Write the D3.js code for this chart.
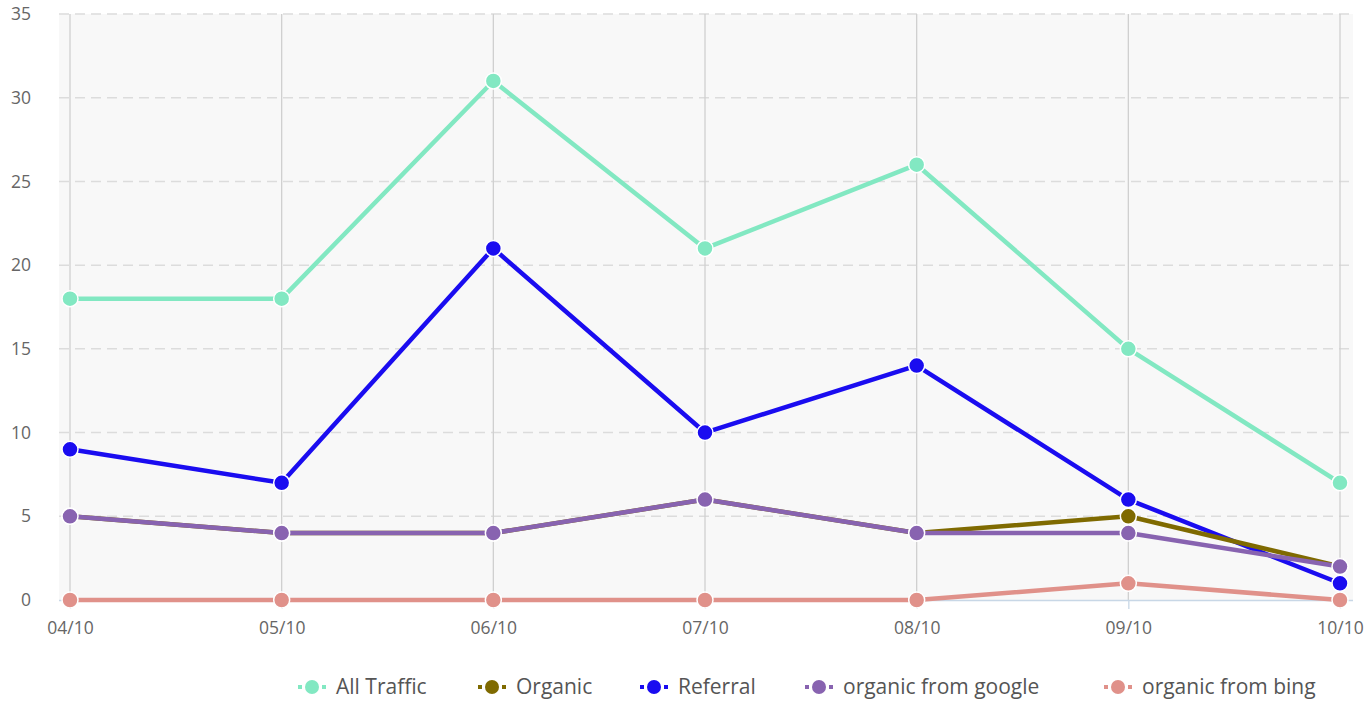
<!DOCTYPE html>
<html>
<head>
<meta charset="utf-8">
<script src="https://cdn.jsdelivr.net/npm/d3@7/dist/d3.min.js"></script>
<style>
  html, body { margin: 0; padding: 0; background: #fff; }
  svg { display: block; font-family: "Open Sans", "Noto Sans", sans-serif; }
</style>
</head>
<body>
<svg id="chart" width="1365" height="702"></svg>
<script>
// Weekly visits by traffic source
const dates = ["04/10", "05/10", "06/10", "07/10", "08/10", "09/10", "10/10"];
const yTicks = [0, 5, 10, 15, 20, 25, 30, 35];

const allTraffic    = [18, 18, 31, 21, 26, 15, 7];
const organic       = [5, 4, 4, 6, 4, 5, 2];
const referral      = [9, 7, 21, 10, 14, 6, 1];
const organicGoogle = [5, 4, 4, 6, 4, 4, 2];
const organicBing   = [0, 0, 0, 0, 0, 1, 0];

const seriesNames  = ["All Traffic", "Organic", "Referral", "organic from google", "organic from bing"];
const seriesColors = ["#82e8c2", "#7f6a00", "#1a0cf0", "#8863b0", "#e0918a"];
const seriesValues = [allTraffic, organic, referral, organicGoogle, organicBing];

const series = seriesNames.map((name, i) => ({ name, color: seriesColors[i], values: seriesValues[i] }));
// paint order: lower series first so google sits above organic
const drawOrder = [2, 1, 3, 4, 0];

const svg = d3.select("#chart");
const plot = { left: 59, right: 1353, top: 14, bottom: 600 };
const font = "\"Open Sans\", \"Noto Sans\", sans-serif";

const x = d3.scalePoint().domain(dates).range([70, 1340]);
const y = d3.scaleLinear().domain([0, 35]).range([plot.bottom, plot.top]);

// plot background
svg.append("rect")
  .attr("x", plot.left).attr("y", plot.top)
  .attr("width", plot.right - plot.left).attr("height", plot.bottom - plot.top)
  .attr("fill", "#f8f8f8");

// horizontal dashed grid
svg.append("g").selectAll("line").data(yTicks.filter(d => d > 0)).join("line")
  .attr("x1", plot.left).attr("x2", plot.right)
  .attr("y1", d => y(d)).attr("y2", d => y(d))
  .attr("stroke", "#dcdcdc").attr("stroke-width", 1.5)
  .attr("stroke-dasharray", "10,6");

// vertical grid at each date
svg.append("g").selectAll("line").data(dates).join("line")
  .attr("x1", d => x(d)).attr("x2", d => x(d))
  .attr("y1", plot.top).attr("y2", plot.bottom)
  .attr("stroke", "#d0d0d0").attr("stroke-width", 1.3);

// y axis labels
const yAxis = svg.append("g")
  .attr("transform", "translate(31,0)")
  .call(d3.axisLeft(y).tickValues(yTicks).tickSize(0).tickPadding(0));
yAxis.select(".domain").remove();
yAxis.selectAll("text")
  .attr("fill", "#666").attr("font-size", 17.5)
  .attr("font-family", font);

// x axis
const xAxis = svg.append("g")
  .attr("transform", `translate(0,${plot.bottom})`)
  .call(d3.axisBottom(x).tickSize(9).tickPadding(13));
xAxis.select(".domain")
  .attr("d", `M${plot.left},0.5H${plot.right}`)
  .attr("stroke", "#c8d7e6").attr("stroke-width", 1.3);
xAxis.selectAll(".tick line").attr("stroke", "#c8d7e6").attr("stroke-width", 1.3);
xAxis.selectAll("text")
  .attr("fill", "#666").attr("font-size", 17.5)
  .attr("font-family", font);

// series lines and markers
const line = d3.line().x((d, i) => x(dates[i])).y(d => y(d));
const layers = svg.append("g");
drawOrder.forEach(k => {
  const s = series[k];
  const g = layers.append("g");
  g.append("path")
    .attr("d", line(s.values))
    .attr("fill", "none")
    .attr("stroke", s.color)
    .attr("stroke-width", 4.5)
    .attr("stroke-linejoin", "round");
  g.selectAll("circle").data(s.values).join("circle")
    .attr("cx", (d, i) => x(dates[i]))
    .attr("cy", d => y(d))
    .attr("r", 8)
    .attr("fill", s.color)
    .attr("stroke", "#fff")
    .attr("stroke-width", 1.5);
});

// legend
const legendTextX = [336, 516, 678, 843, 1142];
const legend = svg.append("g").attr("transform", "translate(0,687)");
series.forEach((s, i) => {
  const g = legend.append("g").attr("transform", `translate(${legendTextX[i] - 24},0)`);
  g.append("line")
    .attr("x1", -14).attr("x2", 14)
    .attr("stroke", s.color).attr("stroke-width", 4)
    .attr("stroke-dasharray", "4,20,4");
  g.append("circle").attr("r", 7).attr("fill", s.color);
  g.append("text")
    .attr("x", 24).attr("dy", "0.35em")
    .attr("fill", "#555").attr("font-size", 21)
    .attr("font-family", font)
    .text(s.name);
});
</script>
</body>
</html>
